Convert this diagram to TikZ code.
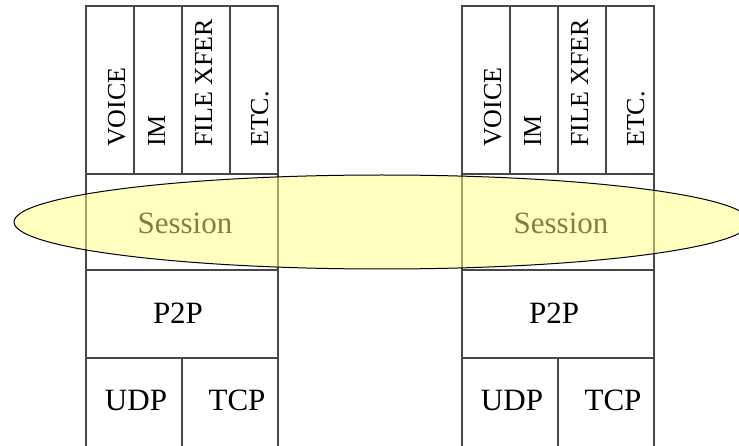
\documentclass[tikz,border=0pt]{standalone}
\usepackage{fontspec}
\setmainfont{Liberation Serif}
\usetikzlibrary{shapes.geometric}
\definecolor{sessfill}{RGB}{255,255,128}
\begin{document}
\begin{tikzpicture}[x=1pt,y=1pt,
  cell/.style={draw=black!72, line width=1.4pt, rectangle, inner sep=0pt, outer sep=0pt},
  vlabel/.style={rotate=90, anchor=base west, inner sep=0pt, font=\fontsize{26}{26}\selectfont},
  hlabel/.style={anchor=base, inner sep=0pt, font=\fontsize{31}{31}\selectfont},
  sessionband/.style={ellipse, draw=black, line width=1pt, fill=sessfill, fill opacity=0.5, inner sep=0pt}
]
\clip (0,0) rectangle (739,445);
% two protocol stacks, one per peer
\foreach \s/\ox in {L/86, R/462}{
  \begin{scope}[xshift=\ox pt]
    % application row
    \node[cell, minimum width=48, minimum height=168] (\s-voice) at (24,355) {};
    \node[cell, minimum width=48, minimum height=168] (\s-im)    at (72,355) {};
    \node[cell, minimum width=48, minimum height=168] (\s-xfer)  at (120,355) {};
    \node[cell, minimum width=48, minimum height=168] (\s-etc)   at (168,355) {};
    % session, p2p and transport rows
    \node[cell, minimum width=192, minimum height=96] (\s-session) at (96,223) {};
    \node[cell, minimum width=192, minimum height=88] (\s-p2p)     at (96,131) {};
    \node[cell, minimum width=96, minimum height=97]  (\s-udp)     at (48,38.5) {};
    \node[cell, minimum width=96, minimum height=97]  (\s-tcp)     at (144,38.5) {};
    % labels
    \node[vlabel] (\s-voicetxt) at (39,298)  {VOICE};
    \node[vlabel] (\s-imtxt)    at (79,298)  {IM};
    \node[vlabel] (\s-xfertxt)  at (126,298) {FILE XFER};
    \node[vlabel] (\s-etctxt)   at (182,298) {ETC.};
    \node[hlabel] (\s-sesstxt)  at (99,211)  {Session};
    \node[hlabel] (\s-p2ptxt)   at (92,122)  {P2P};
    \node[hlabel] (\s-udptxt)   at (50,35)   {UDP};
    \node[hlabel] (\s-tcptxt)   at (151,35)  {TCP};
  \end{scope}
}
% shared session band across both peers
\node[sessionband, minimum width=736, minimum height=94] (band) at (382,223) {};
\end{tikzpicture}
\end{document}
